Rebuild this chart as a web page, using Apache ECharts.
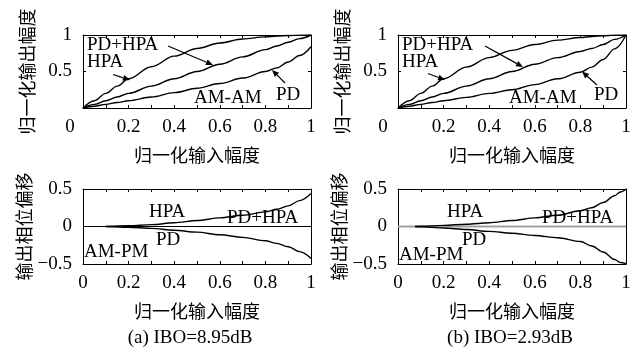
<!DOCTYPE html>
<html>
<head>
<meta charset="utf-8">
<script src="https://cdn.jsdelivr.net/npm/echarts@6/dist/echarts.min.js"></script>
<style>
html,body{margin:0;padding:0;background:#fff;}
#c{width:641px;height:351px;}
</style>
</head>
<body>
<div id="c"></div>
<script>
// ---------- data ----------
const ampX      = [0, 0.05, 0.1, 0.15, 0.2, 0.3, 0.4, 0.5, 0.6, 0.7, 0.8, 0.85, 0.9, 0.95, 1];
// (a) IBO=8.95dB AM-AM
const hpaAmpA   = [0, 0.1, 0.2, 0.3, 0.4, 0.565, 0.71, 0.815, 0.89, 0.945, 0.975, 0.985, 0.993, 0.998, 1];
const pdhpaAmpA = [0, 0.05, 0.1, 0.15, 0.2, 0.3, 0.4, 0.5, 0.6, 0.7, 0.8, 0.85, 0.9, 0.95, 1];
const pdAmpA    = [0, 0.025, 0.05, 0.075, 0.1, 0.15, 0.21, 0.27, 0.335, 0.41, 0.5, 0.55, 0.63, 0.72, 0.84];
// (b) IBO=2.93dB AM-AM
const hpaAmpB   = [0, 0.1, 0.2, 0.3, 0.4, 0.56, 0.69, 0.79, 0.87, 0.93, 0.965, 0.98, 0.99, 0.998, 1];
const pdhpaAmpB = [0, 0.05, 0.1, 0.15, 0.2, 0.3, 0.4, 0.5, 0.6, 0.69, 0.775, 0.815, 0.87, 0.94, 1];
const pdAmpB    = [0, 0.025, 0.05, 0.075, 0.1, 0.145, 0.2, 0.25, 0.32, 0.4, 0.49, 0.56, 0.665, 0.81, 1];
// (a) AM-PM
const phX_A      = [0.1, 0.2, 0.3, 0.4, 0.5, 0.6, 0.7, 0.8, 0.85, 0.9, 0.95, 1];
const hpaPhA     = [0, 0.01, 0.025, 0.05, 0.08, 0.115, 0.15, 0.195, 0.23, 0.275, 0.345, 0.44];
const pdPhA      = [0, -0.01, -0.025, -0.05, -0.075, -0.11, -0.145, -0.19, -0.225, -0.27, -0.335, -0.425];
// (b) AM-PM
const phX_B      = [0.075, 0.1, 0.2, 0.3, 0.4, 0.5, 0.6, 0.7, 0.8, 0.85, 0.9, 0.95, 0.975, 1];
const hpaPhB     = [0, 0.003, 0.015, 0.03, 0.05, 0.08, 0.115, 0.15, 0.21, 0.25, 0.32, 0.41, 0.46, 0.5];
const pdPhB      = [0, -0.003, -0.02, -0.04, -0.065, -0.09, -0.12, -0.15, -0.2, -0.26, -0.34, -0.44, -0.48, -0.495];
const flatX      = [0, 1];
const flatY      = [0, 0];
// tick labels / texts
const xName = '归一化输入幅度';
const yNameAmp = '归一化输出幅度';
const yNamePh = '输出相位偏移';
const captions = ['(a) IBO=8.95dB', '(b) IBO=2.93dB'];

// ---------- helpers ----------
const pairs = (xs, ys) => xs.map((x, i) => [x, ys[i]]);
const SERIF = 'Liberation Serif';
const CJK = 'Noto Sans CJK SC';

const grids = [
  {left: 83, top: 35, width: 228, height: 73},
  {left: 398, top: 35, width: 228, height: 73},
  {left: 83, top: 189, width: 228, height: 75},
  {left: 398, top: 189, width: 228, height: 75}
];

const xAxes = [], yAxes = [];
grids.forEach((g, gi) => {
  const isTop = gi < 2;
  const zeroPad = gi === 0 ? 26 : 30;
  xAxes.push({
    type: 'value', gridIndex: gi, min: 0, max: 1, interval: 0.2, position: 'bottom',
    name: xName, nameLocation: 'middle', nameGap: 38,
    nameTextStyle: {fontFamily: CJK, fontSize: 18, color: '#000'},
    axisLine: {show: true, onZero: false, lineStyle: {color: '#000', width: 1}},
    axisTick: {show: true, inside: true, length: 3, lineStyle: {color: '#000'}},
    minorTick: {show: true, splitNumber: 2, length: 3, lineStyle: {color: '#000'}},
    splitLine: {show: false},
    axisLabel: {
      margin: 10, fontFamily: SERIF, fontSize: 19, color: '#000',
      formatter: v => (isTop && v === 0) ? '{s|0}' : String(v),
      rich: {s: {fontFamily: SERIF, fontSize: 19, color: '#000', padding: [0, zeroPad, 0, 0]}}
    }
  });
  xAxes.push({
    type: 'value', gridIndex: gi, min: 0, max: 1, interval: 0.2, position: 'top',
    axisLine: {show: true, onZero: false, lineStyle: {color: '#000', width: 1}},
    axisTick: {show: true, inside: true, length: 3, lineStyle: {color: '#000'}},
    minorTick: {show: true, splitNumber: 2, length: 3, lineStyle: {color: '#000'}},
    splitLine: {show: false}, axisLabel: {show: false}
  });
  const yCommon = isTop ? {min: 0, max: 1, interval: 0.5} : {min: -0.5, max: 0.5, interval: 0.5};
  yAxes.push(Object.assign({
    type: 'value', gridIndex: gi, position: 'left',
    name: isTop ? yNameAmp : yNamePh, nameLocation: 'middle', nameGap: 47, nameRotate: 90,
    nameTextStyle: {fontFamily: CJK, fontSize: 18, color: '#000'},
    axisLine: {show: true, onZero: false, lineStyle: {color: '#000', width: 1}},
    axisTick: {show: true, inside: true, length: 3, lineStyle: {color: '#000'}},
    splitLine: {show: false},
    axisLabel: {
      margin: 11, fontFamily: SERIF, fontSize: 19, color: '#000',
      formatter: v => (isTop && v === 0) ? '' : String(v).replace('-', '\u2212')
    }
  }, yCommon));
  yAxes.push(Object.assign({
    type: 'value', gridIndex: gi, position: 'right',
    axisLine: {show: true, onZero: false, lineStyle: {color: '#000', width: 1}},
    axisTick: {show: true, inside: true, length: 3, lineStyle: {color: '#000'}},
    splitLine: {show: false}, axisLabel: {show: false}
  }, yCommon));
});

function line(gi, xs, ys, color, w) {
  return {
    type: 'line', xAxisIndex: gi * 2, yAxisIndex: gi * 2, data: pairs(xs, ys),
    symbol: 'none', smooth: 0.35, smoothMonotone: 'x', silent: true, animation: false,
    lineStyle: {color: color || '#000', width: w || 1.4}
  };
}

const series = [
  line(0, ampX, hpaAmpA), line(0, ampX, pdhpaAmpA), line(0, ampX, pdAmpA),
  line(1, ampX, hpaAmpB), line(1, ampX, pdhpaAmpB), line(1, ampX, pdAmpB),
  line(2, flatX, flatY, '#000', 1.2), line(2, phX_A, hpaPhA), line(2, phX_A, pdPhA),
  line(3, flatX, flatY, '#a0a0a0', 1.8), line(3, phX_B, hpaPhB), line(3, phX_B, pdPhB)
];

// ---------- annotations ----------
function txt(x, y, s, align) {
  return {type: 'text', x: x, y: y, silent: true,
    style: {text: s, fontFamily: SERIF, fontSize: 19, fill: '#000', align: align || 'left', verticalAlign: 'middle'}};
}
function arrow(x1, y1, x2, y2) {
  const dx = x2 - x1, dy = y2 - y1, L = Math.sqrt(dx * dx + dy * dy);
  const ux = dx / L, uy = dy / L, hl = 7, hw = 3;
  const bx = x2 - ux * hl, by = y2 - uy * hl;
  return [
    {type: 'line', silent: true, shape: {x1: x1, y1: y1, x2: bx, y2: by}, style: {stroke: '#000', lineWidth: 1.2}},
    {type: 'polygon', silent: true, shape: {points: [[x2, y2], [bx - uy * hw, by + ux * hw], [bx + uy * hw, by - ux * hw]]},
      style: {fill: '#000'}}
  ];
}

const graphics = [
  // (a) AM-AM
  txt(87, 45, 'PD+HPA'), txt(87, 62, 'HPA'), txt(194, 98, 'AM-AM'), txt(276, 95, 'PD'),
  ...arrow(168, 46, 213, 65), ...arrow(113, 74.5, 130, 80), ...arrow(285, 83, 272, 70),
  // (b) AM-AM
  txt(402, 45, 'PD+HPA'), txt(402, 62, 'HPA'), txt(509, 98, 'AM-AM'), txt(594, 95, 'PD'),
  ...arrow(485, 46, 523, 67), ...arrow(428, 73.5, 445, 80), ...arrow(597, 85, 582, 71.5),
  // (a) AM-PM
  txt(149, 212, 'HPA'), txt(227, 218, 'PD+HPA'), txt(156, 240, 'PD'), txt(84, 252, 'AM-PM'),
  // (b) AM-PM
  txt(447, 212, 'HPA'), txt(542, 218, 'PD+HPA'), txt(462, 240, 'PD'), txt(399, 255, 'AM-PM'),
  // captions
  txt(190, 338, captions[0], 'center'), txt(510, 338, captions[1], 'center')
];

const chart = echarts.init(document.getElementById('c'));
chart.setOption({
  animation: false,
  backgroundColor: '#fff',
  grid: grids,
  xAxis: xAxes,
  yAxis: yAxes,
  series: series,
  graphic: graphics
});
</script>
</body>
</html>
